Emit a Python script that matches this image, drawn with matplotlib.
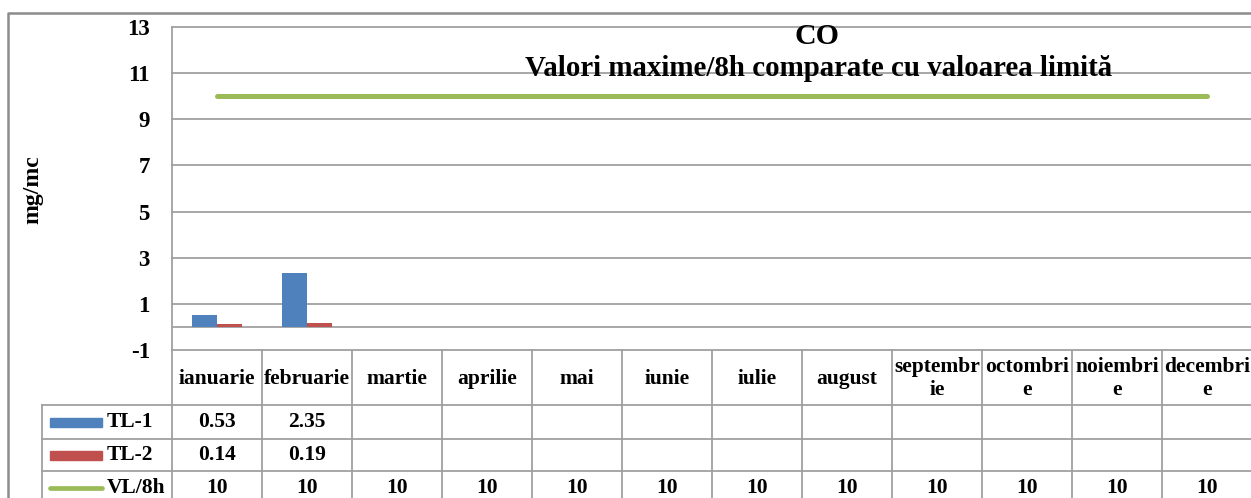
import numpy as np
import matplotlib
matplotlib.use("Agg")
from matplotlib import pyplot as plt
from matplotlib.lines import Line2D

# chart data
months = ["ianuarie", "februarie", "martie", "aprilie", "mai", "iunie", "iulie",
          "august", "septembr\nie", "octombri\ne", "noiembri\ne", "decembri\ne"]
tl1 = [0.53, 2.35] + [None] * 10
tl2 = [0.14, 0.19] + [None] * 10
vl8h = [10] * 12
y_ticks = [-1, 1, 3, 5, 7, 9, 11, 13]

BLUE = "#4F81BD"
RED = "#C0504D"
GREEN = "#9BBB59"
GRID = "#A0A0A0"

plt.rcParams["font.family"] = ["Liberation Serif", "DejaVu Serif"]
plt.rcParams["font.weight"] = "bold"

W, H = 1251, 498
fig = plt.figure(figsize=(W / 100, H / 100), dpi=100)

# plot area in pixel layout
px_left, px_right, px_top, px_bottom = 172, 1252, 27, 350
ax = fig.add_axes([px_left / W, 1 - px_bottom / H,
                   (px_right - px_left) / W, (px_bottom - px_top) / H])

x = np.arange(len(months))
bw = 0.28
v1 = np.array([np.nan if v is None else v for v in tl1])
v2 = np.array([np.nan if v is None else v for v in tl2])
ax.bar(x - bw / 2, v1, bw, color=BLUE, zorder=3)
ax.bar(x + bw / 2, v2, bw, color=RED, zorder=3)
ax.plot(x, vl8h, color=GREEN, lw=3.6, solid_capstyle="round", zorder=4)

ax.set_xlim(-0.5, len(months) - 0.5)
ax.set_ylim(-1, 13)
ax.set_yticks(y_ticks)
ax.set_yticklabels([str(t) for t in y_ticks], fontsize=16.5, fontweight="bold")
ax.tick_params(axis="y", length=0, pad=16)
ax.set_xticks([])
for t in y_ticks:
    ax.axhline(t, color=GRID, lw=1.3, zorder=1, clip_on=False)
ax.axhline(0, color=GRID, lw=1.3, zorder=2)
for s in ["top", "right", "bottom"]:
    ax.spines[s].set_visible(False)
ax.spines["left"].set_color(GRID)
ax.spines["left"].set_linewidth(1.3)

ax.set_ylabel("mg/mc", fontsize=17, fontweight="bold")
ax.yaxis.set_label_coords(-(px_left - 43) / (px_right - px_left), 1 - (190 - px_top) / (px_bottom - px_top))

fig.text(817 / W, 1 - 36 / H, "CO", ha="center", va="center", fontsize=21.5, fontweight="bold")
fig.text(819 / W, 1 - 69 / H, "Valori maxime/8h comparate cu valoarea limită",
         ha="center", va="center", fontsize=20.8, fontweight="bold")

# data table under the chart
leg_w = (px_left - 42) / 90.0
ta = fig.add_axes([42 / W, 0, (px_right - 42) / W, (H - px_bottom) / H])
ta.set_xlim(-0.5 - leg_w, len(months) - 0.5)
ta.set_ylim(H, px_bottom)
ta.axis("off")
row_edges = [350, 405, 439, 471, 505]
row_mid = [(row_edges[i] + row_edges[i + 1]) / 2 for i in range(4)]
x0 = -0.5 - leg_w
for k in range(len(months) + 1):
    ta.plot([k - 0.5, k - 0.5], [row_edges[0], row_edges[-1]], color=GRID, lw=1.3, clip_on=False)
ta.plot([x0, x0], [row_edges[1], row_edges[-1]], color=GRID, lw=1.3, clip_on=False)
for yy in row_edges[1:4]:
    ta.plot([x0, len(months) - 0.5], [yy, yy], color=GRID, lw=1.3, clip_on=False)

for i, m in enumerate(months):
    ta.text(i, row_mid[0] + 1, m, ha="center", va="center", fontsize=15.5,
            fontweight="bold", linespacing=1.15)

series = [("TL-1", tl1, BLUE, "bar"), ("TL-2", tl2, RED, "bar"), ("VL/8h", vl8h, GREEN, "line")]
for r, (name, vals, col, kind) in enumerate(series):
    ym = row_mid[r + 1]
    sx0 = x0 + 8 / 90.0
    sx1 = x0 + 60 / 90.0
    if kind == "bar":
        ta.add_patch(plt.Rectangle((sx0, ym - 4.5), sx1 - sx0, 9, color=col, clip_on=False))
    else:
        ta.plot([sx0, sx1], [ym, ym], color=col, lw=3.4, solid_capstyle="round", clip_on=False)
    ta.text(x0 + 65 / 90.0, ym, name, ha="left", va="center", fontsize=15.5, fontweight="bold")
    for i, v in enumerate(vals):
        if v is not None:
            ta.text(i, ym, f"{v:g}" if isinstance(v, int) else f"{v:.2f}", ha="center",
                    va="center", fontsize=15.5, fontweight="bold")

# outer chart border
fig.add_artist(Line2D([8 / W, 8 / W, 1.0], [0, 1 - 13 / H, 1 - 13 / H],
                      transform=fig.transFigure, color="#8C8C8C", lw=1.8))

fig.savefig("out.png", dpi=100)
